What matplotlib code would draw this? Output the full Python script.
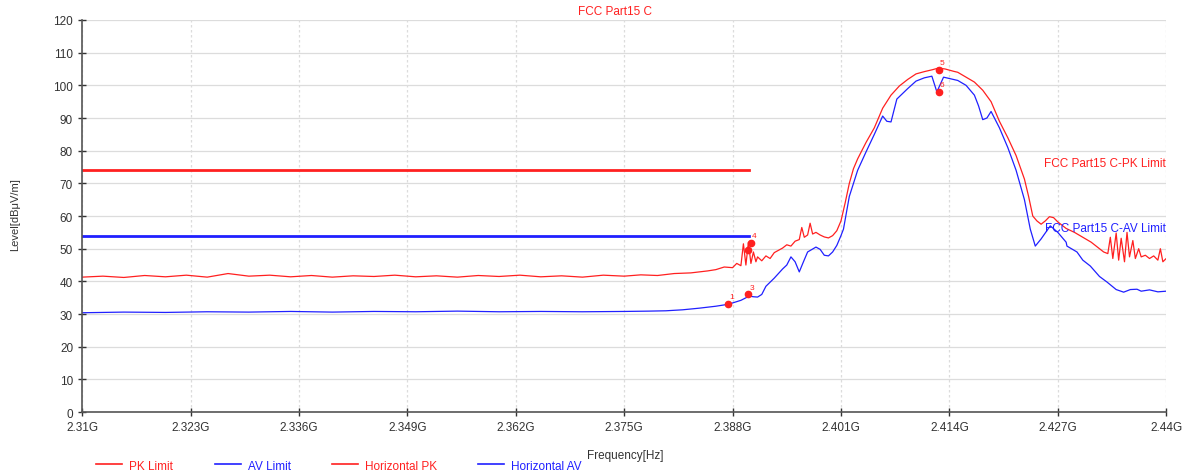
import matplotlib; matplotlib.use("Agg")
import matplotlib.pyplot as plt
from matplotlib.lines import Line2D

plt.rcParams['font.family'] = ['Liberation Sans', 'DejaVu Sans']

RED, BLUE = "#ff2020", "#2020ff"

# limit lines (GHz, dBuV/m)
pk_limit_f = [2.31, 2.39]; pk_limit_v = [74, 74]
av_limit_f = [2.31, 2.39]; av_limit_v = [54, 54]

# horizontal peak trace
pk_f = [2.310, 2.3125, 2.315, 2.3175, 2.320, 2.3225, 2.325, 2.3275, 2.330, 2.3325, 2.335, 2.3375,
        2.340, 2.3425, 2.345, 2.3475, 2.350, 2.3525, 2.355, 2.3575, 2.360, 2.3625, 2.365, 2.3675,
        2.370, 2.3725, 2.375, 2.377, 2.379, 2.381, 2.383, 2.385, 2.386, 2.387, 2.388, 2.3885,
        2.389, 2.3893, 2.3896, 2.3899, 2.3902, 2.3905, 2.3908, 2.391, 2.3915, 2.392, 2.3925, 2.393,
        2.3935, 2.394, 2.3945, 2.395, 2.3955, 2.396, 2.3963, 2.3966, 2.397, 2.3973, 2.3976, 2.398,
        2.3985, 2.399, 2.3995, 2.400, 2.4005, 2.401, 2.4015, 2.402, 2.4025, 2.403, 2.4035, 2.404,
        2.405, 2.406, 2.407, 2.408, 2.409, 2.410, 2.411, 2.412, 2.4127, 2.4135, 2.4145, 2.415,
        2.416, 2.417, 2.418, 2.419, 2.420, 2.421, 2.422, 2.423, 2.4235, 2.424, 2.4245, 2.425,
        2.4255, 2.426, 2.4265, 2.427, 2.428, 2.429, 2.430, 2.431, 2.432, 2.4325, 2.433, 2.4333,
        2.4336, 2.434, 2.4343, 2.4346, 2.435, 2.4353, 2.4356, 2.436, 2.4363, 2.4367, 2.437, 2.4375,
        2.438, 2.4385, 2.439, 2.4393, 2.4396, 2.440]
pk_v = [41.3, 41.6, 41.2, 41.8, 41.4, 41.9, 41.3, 42.4, 41.6, 41.9, 41.4, 41.8,
        41.3, 41.7, 41.5, 41.9, 41.4, 41.7, 41.3, 41.8, 41.5, 41.9, 41.4, 41.7,
        41.3, 41.9, 41.6, 42.0, 41.8, 42.4, 42.6, 43.2, 43.6, 44.4, 44.2, 45.5,
        44.8, 51.5, 45.0, 52.0, 45.5, 49.0, 46.0, 47.5, 46.3, 47.8, 47.0, 48.8,
        49.5, 50.2, 51.2, 50.8, 52.3, 52.8, 56.5, 53.5, 54.2, 57.8, 54.5, 55.0,
        54.2, 53.6, 53.3, 54.0, 55.5, 58.5, 64.0, 70.0, 74.5, 77.5, 80.0, 82.5,
        87.0, 93.0, 97.0, 99.8, 101.8, 103.5, 104.2, 104.8, 105.3, 105.0, 104.3, 104.0,
        102.5, 101.0, 98.5, 95.0, 89.0, 84.0, 78.5, 71.3, 66.0, 60.0, 58.5, 57.5,
        58.5, 59.8, 59.5, 58.2, 56.2, 55.0, 53.5, 52.0, 50.0, 49.0, 48.5, 53.5,
        47.0, 54.8, 46.5, 53.2, 46.0, 55.0, 47.5, 52.5, 47.0, 50.0, 47.5, 48.0,
        47.0, 47.8, 46.5, 50.0, 46.0, 47.0]

# horizontal average trace
av_f = [2.310, 2.315, 2.320, 2.325, 2.330, 2.335, 2.340, 2.345, 2.350, 2.355, 2.360, 2.365,
        2.370, 2.375, 2.378, 2.380, 2.382, 2.384, 2.386, 2.3875, 2.389, 2.390, 2.3905, 2.391,
        2.3915, 2.392, 2.393, 2.394, 2.3945, 2.395, 2.3955, 2.396, 2.3965, 2.397, 2.398, 2.3985,
        2.399, 2.3995, 2.400, 2.4005, 2.401, 2.4013, 2.402, 2.403, 2.404, 2.405, 2.406, 2.4065,
        2.407, 2.4077, 2.409, 2.410, 2.411, 2.4119, 2.4125, 2.4133, 2.415, 2.416, 2.417, 2.4175,
        2.418, 2.4185, 2.419, 2.420, 2.421, 2.422, 2.423, 2.4237, 2.4243, 2.425, 2.4261, 2.427,
        2.428, 2.4281, 2.4293, 2.430, 2.4309, 2.432, 2.4329, 2.434, 2.4349, 2.4357, 2.4365, 2.437,
        2.438, 2.439, 2.440]
av_v = [30.4, 30.6, 30.5, 30.7, 30.6, 30.8, 30.6, 30.8, 30.7, 30.9, 30.7, 30.8,
        30.7, 30.8, 30.9, 31.0, 31.3, 31.8, 32.4, 33.0, 34.2, 35.5, 35.3, 35.2,
        36.0, 38.5, 41.0, 43.8, 45.0, 47.5, 46.0, 42.9, 46.0, 49.0, 50.5, 49.8,
        48.0, 47.8, 49.0, 51.0, 54.0, 56.0, 66.0, 74.0, 79.6, 85.0, 90.6, 89.0,
        88.8, 95.8, 99.0, 101.3, 102.3, 102.8, 98.0, 102.5, 101.5, 100.0, 97.0, 93.7,
        89.5, 90.0, 92.0, 87.0, 81.0, 74.0, 65.0, 56.0, 50.8, 53.0, 57.0, 55.0,
        52.0, 50.8, 49.0, 46.5, 44.7, 41.5, 39.8, 37.5, 36.7, 37.5, 37.6, 37.0,
        37.4, 36.8, 37.0]

# numbered markers
mk_id = ["1", "2", "3", "4", "5", "6"]
mk_f = [2.3875, 2.3898, 2.3899, 2.3902, 2.4127, 2.4127]
mk_v = [33.0, 49.5, 36.0, 51.8, 104.7, 97.9]

xticks = [2.31, 2.323, 2.336, 2.349, 2.362, 2.375, 2.388, 2.401, 2.414, 2.427, 2.44]
xlabels = ["2.31G", "2.323G", "2.336G", "2.349G", "2.362G", "2.375G", "2.388G",
           "2.401G", "2.414G", "2.427G", "2.44G"]
yticks = list(range(0, 121, 10))

fig = plt.figure(figsize=(11.9, 4.77), dpi=100)
ax = fig.add_axes([0.069, 0.134, 0.911, 0.822])
ax.plot(pk_limit_f, pk_limit_v, color=RED, lw=2)
ax.plot(av_limit_f, av_limit_v, color=BLUE, lw=2)
ax.plot(pk_f, pk_v, color=RED, lw=0.9)
ax.plot(av_f, av_v, color=BLUE, lw=0.9)
ax.plot(mk_f, mk_v, "o", color=RED, ms=4.5, ls="none")
for i, f, v in zip(mk_id, mk_f, mk_v):
    ax.text(f + 0.0004, v + 1.2, i, color=RED, fontsize=6, ha="center", va="bottom")

ax.set_xlim(2.31, 2.44); ax.set_ylim(0, 120)
ax.set_xticks(xticks); ax.set_xticklabels(xlabels)
ax.set_yticks(yticks)
ax.tick_params(labelsize=8.5, colors="#333333", direction="inout", length=6, width=1)
ax.grid(True, axis="y", color="#dcdcdc", lw=0.9)
ax.grid(True, axis="x", color="#dcdcdc", lw=0.9, ls=(0, (2, 2)))
for s in ["top", "right"]:
    ax.spines[s].set_visible(False)
for s in ["left", "bottom"]:
    ax.spines[s].set_color("#555555"); ax.spines[s].set_linewidth(1.2)

ax.text(2.44, 74.5, "FCC Part15 C-PK Limit", color=RED, fontsize=8.5, ha="right", va="bottom")
ax.text(2.44, 54.5, "FCC Part15 C-AV Limit", color=BLUE, fontsize=8.5, ha="right", va="bottom")
fig.text(0.517, 0.975, "FCC Part15 C", color=RED, fontsize=8.5, ha="center", va="center")
fig.text(0.013, 0.55, "Level[dBμV/m]", rotation=90, fontsize=8, ha="center", va="center", color="#333333")
fig.text(0.525, 0.045, "Frequency[Hz]", fontsize=8.5, ha="center", va="center", color="#333333")

handles = [Line2D([], [], color=RED, lw=1.2), Line2D([], [], color=BLUE, lw=1.2),
           Line2D([], [], color=RED, lw=1.2), Line2D([], [], color=BLUE, lw=1.2)]
names = ["PK Limit", "AV Limit", "Horizontal PK", "Horizontal AV"]
leg = fig.legend(handles, names, loc="center left", bbox_to_anchor=(0.072, 0.022), ncol=4,
                 frameon=False, fontsize=8.5, handlelength=2.2, columnspacing=3.5, handletextpad=0.6)
for t, c in zip(leg.get_texts(), [RED, BLUE, RED, BLUE]):
    t.set_color(c)

fig.savefig("out.png", dpi=100)
